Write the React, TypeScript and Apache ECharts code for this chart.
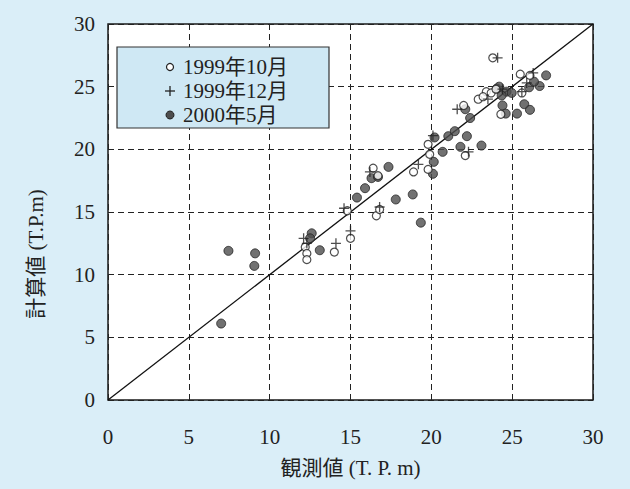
import React, { useEffect, useRef } from "react";
import * as echarts from "echarts";

const xTicks = [0, 5, 10, 15, 20, 25, 30];
const yTicks = [0, 5, 10, 15, 20, 25, 30];
const seriesNames = ["1999年10月", "1999年12月", "2000年5月"];

const oct1999: number[][] = [
  [12.2, 12.2], [12.3, 11.7], [12.3, 11.2], [14.0, 11.8], [15.0, 12.9], [14.8, 15.1],
  [16.6, 14.7], [16.8, 15.2], [16.4, 18.5], [16.7, 17.9], [18.9, 18.2], [19.8, 18.4],
  [19.8, 20.4], [19.9, 19.6], [22.1, 19.5], [22.0, 23.5], [22.9, 24.0], [23.4, 24.6],
  [23.7, 24.5], [24.0, 24.8], [23.2, 24.2], [23.8, 27.3], [25.5, 26.0], [26.1, 25.9],
  [25.6, 24.5], [24.3, 22.8],
];

const dec1999: number[][] = [
  [12.1, 12.9], [12.3, 12.5], [14.1, 12.5], [15.0, 13.5], [14.6, 15.3], [16.2, 18.2],
  [16.8, 15.4], [19.2, 18.8], [20.1, 21.1], [22.3, 19.8], [21.6, 23.2], [24.1, 27.3],
  [26.3, 26.1], [23.5, 24.0], [24.4, 24.8], [25.9, 25.3], [25.6, 24.6],
];

const may2000: number[][] = [
  [7.0, 6.1], [7.45, 11.9], [9.1, 11.7], [9.05, 10.7], [12.6, 13.3], [12.5, 12.9],
  [13.1, 11.95], [15.4, 16.15], [15.9, 16.9], [16.3, 17.7], [16.7, 17.8], [17.35, 18.6],
  [17.8, 16.0], [18.85, 16.4], [19.35, 14.15], [20.1, 18.05], [20.15, 19.0], [20.2, 20.95],
  [20.7, 19.8], [21.05, 21.05], [21.45, 21.45], [21.8, 20.2], [22.2, 21.05], [22.4, 22.5],
  [23.1, 20.3], [22.1, 23.2], [24.4, 23.5], [24.6, 22.85], [25.3, 22.85], [25.75, 23.6],
  [26.1, 23.15], [27.1, 25.9], [26.05, 24.95], [26.7, 25.05], [26.35, 25.4], [24.05, 24.85],
  [24.65, 24.6], [24.97, 24.5], [24.35, 24.3], [24.2, 25.0],
];

const diagonal: number[][] = [[0, 0], [30, 30]];

const FONT = "'Liberation Serif', 'Noto Sans CJK JP', serif";
const PLUS = "path://M0,5L10,5M5,0L5,10";

export default function App() {
  const ref = useRef<HTMLDivElement>(null);
  useEffect(() => {
    if (!ref.current) return;
    const chart = echarts.init(ref.current, null, { renderer: "svg" });
    const rowY = [67, 91, 115];
    const labelStyle = (text: string) => ({
      text,
      fontFamily: FONT,
      fontSize: 21,
      fill: "#222",
      textAlign: "left",
      textVerticalAlign: "middle",
    });
    chart.setOption({
      animation: false,
      backgroundColor: "#daeef8",
      grid: {
        left: 108,
        right: 37,
        top: 24,
        bottom: 89,
        show: true,
        backgroundColor: "#ffffff",
        borderColor: "#1a1a1a",
        borderWidth: 1.5,
      },
      xAxis: {
        type: "value",
        min: xTicks[0],
        max: xTicks[xTicks.length - 1],
        interval: 5,
        name: "観測値 (T. P. m)",
        nameLocation: "middle",
        nameGap: 57,
        nameTextStyle: { fontFamily: FONT, fontSize: 21, color: "#222" },
        axisLine: { show: false },
        axisTick: { show: false },
        axisLabel: { margin: 26, fontFamily: FONT, fontSize: 21, color: "#222" },
        splitLine: { show: true, lineStyle: { color: "#222", width: 1, type: [6, 4] } },
      },
      yAxis: {
        type: "value",
        min: yTicks[0],
        max: yTicks[yTicks.length - 1],
        interval: 5,
        axisLine: { show: false },
        axisTick: { show: false },
        axisLabel: { margin: 13, fontFamily: FONT, fontSize: 21, color: "#222" },
        splitLine: { show: true, lineStyle: { color: "#222", width: 1, type: [6, 4] } },
      },
      graphic: [
        {
          type: "rect",
          shape: { x: 117, y: 47, width: 212, height: 81 },
          style: { fill: "#cfe8f4", stroke: "#333", lineWidth: 1.2 },
          z: 10,
        },
        {
          type: "circle",
          shape: { cx: 170, cy: rowY[0], r: 3.5 },
          style: { fill: "#ffffff", stroke: "#222", lineWidth: 1.2 },
          z: 11,
        },
        {
          type: "line",
          shape: { x1: 165, y1: rowY[1], x2: 175, y2: rowY[1] },
          style: { stroke: "#222", lineWidth: 1.3 },
          z: 11,
        },
        {
          type: "line",
          shape: { x1: 170, y1: rowY[1] - 5, x2: 170, y2: rowY[1] + 5 },
          style: { stroke: "#222", lineWidth: 1.3 },
          z: 11,
        },
        {
          type: "circle",
          shape: { cx: 170, cy: rowY[2], r: 4 },
          style: { fill: "#4d4d4d", stroke: "#222", lineWidth: 1 },
          z: 11,
        },
        { type: "text", x: 183, y: rowY[0], style: labelStyle(seriesNames[0]), z: 11 },
        { type: "text", x: 183, y: rowY[1], style: labelStyle(seriesNames[1]), z: 11 },
        { type: "text", x: 183, y: rowY[2], style: labelStyle(seriesNames[2]), z: 11 },
        {
          type: "text",
          x: 36,
          y: 254,
          rotation: Math.PI / 2,
          style: {
            text: "計算値 (T.P.m)",
            fontFamily: FONT,
            fontSize: 21,
            fill: "#222",
            textAlign: "center",
            textVerticalAlign: "middle",
          },
        },
      ],
      series: [
        {
          name: seriesNames[0],
          type: "scatter",
          data: oct1999,
          symbol: "circle",
          symbolSize: 8,
          z: 4,
          itemStyle: { color: "#ffffff", borderColor: "#222", borderWidth: 1.2 },
        },
        {
          name: seriesNames[1],
          type: "scatter",
          data: dec1999,
          symbol: PLUS,
          symbolSize: 10,
          z: 5,
          itemStyle: { color: "rgba(0,0,0,0)", borderColor: "#222", borderWidth: 1.3 },
        },
        {
          name: seriesNames[2],
          type: "scatter",
          data: may2000,
          symbol: "circle",
          symbolSize: 9,
          z: 3,
          itemStyle: { color: "#4d4d4d", borderColor: "#222", borderWidth: 1 },
        },
        {
          type: "line",
          data: diagonal,
          symbol: "none",
          silent: true,
          z: 2,
          lineStyle: { color: "#111", width: 1.3 },
        },
      ],
    });
    return () => chart.dispose();
  }, []);
  return (
    <div
      ref={ref}
      style={{ position: "absolute", left: 0, top: 0, width: 630, height: 489 }}
    />
  );
}
